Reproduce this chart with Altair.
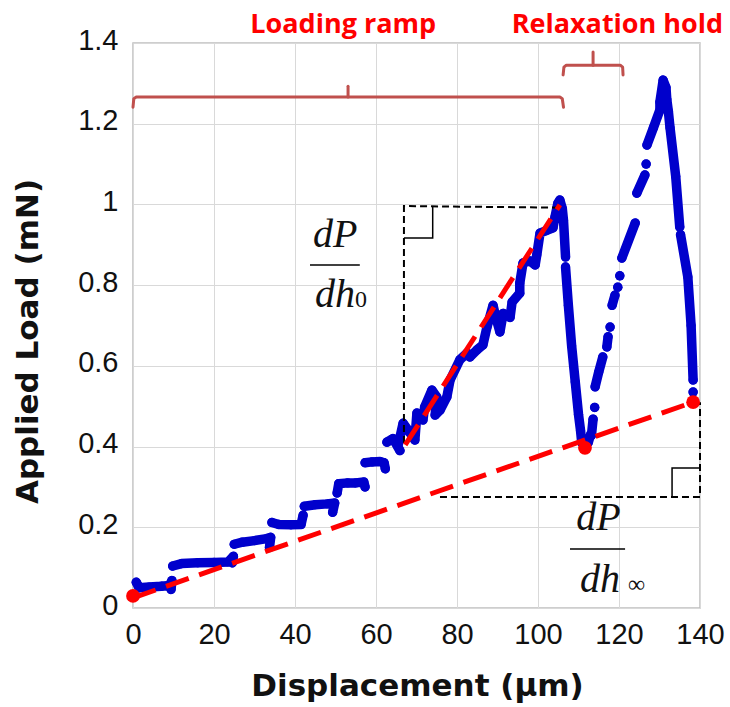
import altair as alt
import pandas as pd

# ---------------- data ----------------
# blue measured points (displacement um, load mN), grouped in visually continuous runs
blue_runs = [
    [(0.8, 0.064), (1.5, 0.05), (4, 0.052), (7, 0.054), (9, 0.056), (9.6, 0.068), (9.4, 0.046)],
    [(9.8, 0.104), (12, 0.11), (16, 0.112), (20, 0.113), (23.5, 0.114), (24.8, 0.128), (24.5, 0.112)],
    [(25, 0.158), (27, 0.163), (30, 0.167), (33, 0.172), (34, 0.175), (33.7, 0.15)],
    [(34.3, 0.212), (36, 0.207), (39, 0.206), (41.5, 0.207), (42, 0.23)],
    [(42.3, 0.252), (45, 0.256), (48, 0.258), (49.8, 0.26), (49.3, 0.237)],
    [(50.4, 0.285), (50.8, 0.308), (53, 0.31), (55, 0.31), (57, 0.312), (57.3, 0.3)],
    [(57.3, 0.36), (59, 0.362), (61, 0.363), (62, 0.36), (62.3, 0.345)],
    [(62.7, 0.411), (64.2, 0.42), (65.9, 0.39), (65.4, 0.40), (66.7, 0.458), (68.4, 0.434),
     (69.6, 0.416), (70.1, 0.483), (71.6, 0.466), (72, 0.498), (73.8, 0.54), (75, 0.523),
     (74.6, 0.478), (75.8, 0.49), (77.5, 0.523), (78.3, 0.565), (80.7, 0.615), (82.5, 0.632),
     (83.2, 0.622), (85, 0.64), (86.4, 0.652), (87.4, 0.696), (88.9, 0.75), (89.6, 0.72),
     (90.6, 0.684), (91.4, 0.73), (93.1, 0.72), (93.6, 0.758), (95.5, 0.78), (95.5, 0.805),
     (96.3, 0.855), (98, 0.86), (99.3, 0.85), (99.7, 0.875), (100.5, 0.929), (102, 0.935),
     (103.7, 0.942), (104.2, 0.969), (104.9, 1.003), (105.4, 1.011), (106, 0.99),
     (106.3, 0.96), (106.8, 0.87)],
    [(106.8, 0.845), (107.5, 0.75), (108.3, 0.65), (109.2, 0.56), (110, 0.48), (110.5, 0.44),
     (110.8, 0.41), (111.6, 0.40), (112.4, 0.41), (113, 0.43)],
    [(113.2, 0.428), (113.6, 0.468)],
    [(114.0, 0.497)],
    [(114.1, 0.548), (115, 0.585), (116, 0.622)],
    [(117, 0.647), (117.3, 0.672)],
    [(117.8, 0.696)],
    [(118.3, 0.75), (119, 0.775)],
    [(119.7, 0.795)],
    [(120.2, 0.823)],
    [(120.7, 0.867), (124, 0.954)],
    [(124.4, 1.028), (126.4, 1.073)],
    [(126.7, 1.10)],
    [(126.9, 1.147), (128.5, 1.19), (130.1, 1.234), (130.1, 1.254), (130.9, 1.308),
     (131.6, 1.29), (131.8, 1.26), (132.2, 1.23), (132.6, 1.19), (134, 1.07), (135, 0.944)],
    [(135.2, 0.925), (137, 0.82), (137.8, 0.70), (138.3, 0.565)],
    [(138.3, 0.535)],
]

# red fitted dashed lines
red_low = [(0, 0.025), (138.3, 0.51)]
red_steep = [(67.2, 0.404), (105.4, 0.999)]
red_dots_x = [0, 111.6, 138.3]
red_dots_y = [0.03, 0.397, 0.51]

# black dashed construction lines
black_dashed = [
    [(66.9, 0.409), (66.9, 0.996), (105.3, 0.992)],
    [(75.8, 0.275), (140, 0.275), (140, 0.51)],
]
# right-angle markers and fraction bars
black_solid = [
    [(66.9, 0.917), (74.0, 0.917), (74.0, 0.996)],
    [(133.1, 0.275), (133.1, 0.347), (140, 0.347)],
    [(43.7, 0.850), (56.0, 0.850)],
    [(107.9, 0.146), (121.5, 0.146)],
]
# braces
braces = [
    [(0, 1.241), (0.2, 1.262), (0.8, 1.266), (105.4, 1.266), (106.0, 1.262), (106.3, 1.241)],
    [(53.1, 1.266), (53.1, 1.293)],
    [(106.2, 1.321), (106.4, 1.34), (107.0, 1.345), (120.3, 1.345), (120.9, 1.34), (121.0, 1.321)],
    [(113.6, 1.345), (113.6, 1.378)],
]
phase_labels = ["Loading ramp", "Relaxation hold"]
phase_x = [51.9, 119.6]
phase_y = [1.425, 1.425]

frac_num = ["dP", "dP"]
frac_num_x = [49.9, 114.9]
frac_num_y = [0.895, 0.193]
frac_den = ["dh", "dh"]
frac_den_x = [49.9, 115.3]
frac_den_y = [0.746, 0.040]
frac_sub = ["0", "∞"]
frac_sub_x = [54.8, 122.2]
frac_sub_y = [0.746, 0.040]

x_ticks = [0, 20, 40, 60, 80, 100, 120, 140]
y_ticks = [0, 0.2, 0.4, 0.6, 0.8, 1.0, 1.2, 1.4]


def runs_df(runs):
    rows = []
    for g, run in enumerate(runs):
        for i, (xv, yv) in enumerate(run):
            rows.append({"x": xv, "y": yv, "g": g, "i": i})
    return pd.DataFrame(rows)


blue_df = runs_df(blue_runs)
red_df = runs_df([red_low, red_steep])
dots_df = pd.DataFrame({"x": red_dots_x, "y": red_dots_y})
bd_df = runs_df(black_dashed)
bs_df = runs_df(black_solid)
br_df = runs_df(braces)
ph_df = pd.DataFrame({"x": phase_x, "y": phase_y, "t": phase_labels})
num_df = pd.DataFrame({"x": frac_num_x, "y": frac_num_y, "t": frac_num})
den_df = pd.DataFrame({"x": frac_den_x, "y": frac_den_y, "t": frac_den})
sub_df = pd.DataFrame({"x": frac_sub_x, "y": frac_sub_y, "t": frac_sub})

xs = alt.Scale(domain=[0, 140], nice=False, zero=False)
ys = alt.Scale(domain=[0, 1.4], nice=False, zero=False)

x_axis = alt.Axis(
    values=x_ticks, grid=True, gridColor="#d9d9d9", gridWidth=1, ticks=False, domain=False,
    labelFont="Liberation Sans", labelFontSize=29, labelColor="#111111", labelPadding=12,
    labelFlush=False,
    title="Displacement (μm)", titleFont="DejaVu Sans", titleFontSize=31, titleFontWeight="bold",
    titleColor="#111111", titleBaseline="alphabetic", titleX=284, titleY=87, titleAlign="center",
)
y_axis = alt.Axis(
    values=y_ticks, format="~g", grid=True, gridColor="#d9d9d9", gridWidth=1, ticks=False,
    domain=False, labelFont="Liberation Sans", labelFontSize=29, labelColor="#111111",
    labelPadding=15, labelOffset=-3, labelFlush=False,
    title="Applied Load (mN)", titleFont="DejaVu Sans", titleFontSize=31, titleFontWeight="bold",
    titleColor="#111111", titleX=-105, titleY=298, titleBaseline="middle", titleAlign="center",
    titleAngle=270,
)

X = alt.X("x:Q", scale=xs, axis=x_axis)
Y = alt.Y("y:Q", scale=ys, axis=y_axis)

blue_lines = alt.Chart(blue_df).mark_line(
    color="#0000CC", strokeWidth=9.5, strokeCap="round", strokeJoin="round"
).encode(X, Y, detail="g:N", order="i:Q")
blue_pts = alt.Chart(blue_df).mark_circle(color="#0000CC", size=85, opacity=1).encode(X, Y)

black_d = alt.Chart(bd_df).mark_line(color="#000000", strokeWidth=2, strokeDash=[7, 4]).encode(
    X, Y, detail="g:N", order="i:Q")
black_s = alt.Chart(bs_df).mark_line(color="#000000", strokeWidth=1.5).encode(
    X, Y, detail="g:N", order="i:Q")
red_lines = alt.Chart(red_df).mark_line(color="#FF0000", strokeWidth=5, strokeDash=[24, 11]).encode(
    X, Y, detail="g:N", order="i:Q")
red_dots = alt.Chart(dots_df).mark_circle(color="#FF0000", size=190, opacity=1).encode(X, Y)
brace_l = alt.Chart(br_df).mark_line(
    color="#C0504D", strokeWidth=3, strokeCap="round", strokeJoin="round").encode(
    X, Y, detail="g:N", order="i:Q")

phase_t = alt.Chart(ph_df).mark_text(
    font="Open Sans", fontSize=27, fontWeight="bold", color="#FF0000",
    align="center", baseline="alphabetic").encode(X, Y, text="t:N")
num_t = alt.Chart(num_df).mark_text(
    font="Liberation Serif", fontSize=40, fontStyle="italic", color="#111111",
    align="center", baseline="alphabetic").encode(X, Y, text="t:N")
den_t = alt.Chart(den_df).mark_text(
    font="Liberation Serif", fontSize=40, fontStyle="italic", color="#111111",
    align="center", baseline="alphabetic").encode(X, Y, text="t:N")
sub_t = alt.Chart(sub_df).mark_text(
    font="Liberation Serif", fontSize=24, color="#111111",
    align="left", baseline="alphabetic").encode(X, Y, text="t:N")

chart = alt.layer(
    blue_lines, blue_pts, black_d, black_s, red_lines, red_dots, brace_l,
    phase_t, num_t, den_t, sub_t,
).properties(
    width=567, height=565,
    padding={"left": 133, "top": 43, "right": 30, "bottom": 99},
    autosize=alt.AutoSizeParams(type="none"),
    background="white",
).configure_view(stroke="#bfbfbf", strokeWidth=1.5)

chart.save("out.html", embed_options={"renderer": "svg", "actions": False})
